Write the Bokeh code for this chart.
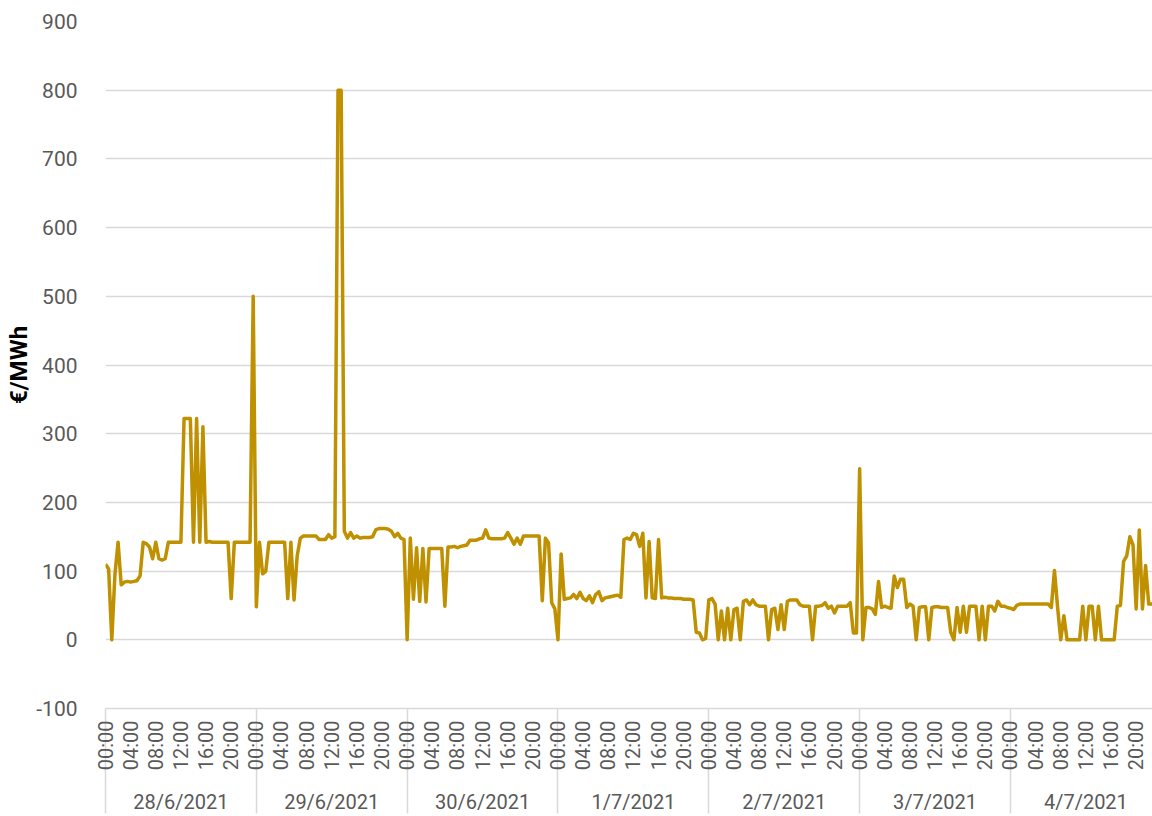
import numpy as np
from bokeh.plotting import figure
from bokeh.models import FixedTicker, LinearAxis, Range1d
from bokeh.embed import file_html
from bokeh.resources import INLINE

# ---- data (half-hourly prices, €/MWh) ----
day_labels = ["28/6/2021", "29/6/2021", "30/6/2021", "1/7/2021", "2/7/2021", "3/7/2021", "4/7/2021"]
y_ticks = [-100, 0, 100, 200, 300, 400, 500, 600, 700, 800, 900]
y_tick_labels = ["-100", "0", "100", "200", "300", "400", "500", "600", "700", "800", "900"]
hour_tick_labels = ["00:00", "04:00", "08:00", "12:00", "16:00", "20:00"]

d28 = [110, 103, 0, 95, 142, 80, 84, 85, 84, 85, 86, 93,
       142, 140, 135, 118, 142, 118, 116, 118, 142, 142, 142, 142,
       142, 322, 322, 322, 142, 322, 142, 310, 142, 143, 142, 142,
       142, 142, 142, 142, 60, 142, 142, 142, 142, 142, 142, 500]
d29 = [48, 142, 96, 100, 142, 142, 142, 142, 142, 142, 60, 142,
       58, 122, 148, 151, 151, 151, 151, 151, 146, 146, 146, 153,
       148, 150, 800, 800, 158, 148, 156, 148, 151, 148, 149, 149,
       149, 150, 160, 162, 162, 162, 161, 158, 150, 155, 148, 146]
d30 = [0, 148, 59, 134, 56, 133, 55, 133, 133, 133, 133, 133,
       49, 135, 135, 136, 134, 136, 137, 138, 145, 145, 145, 147,
       148, 160, 148, 147, 147, 147, 147, 148, 156, 148, 139, 148,
       139, 151, 151, 151, 151, 151, 151, 57, 148, 141, 54, 45]
d01 = [0, 125, 59, 60, 61, 66, 60, 69, 60, 57, 64, 54,
       66, 70, 57, 61, 62, 63, 64, 65, 62, 146, 148, 146,
       155, 153, 136, 155, 61, 143, 61, 60, 146, 61, 62, 61,
       61, 60, 60, 60, 59, 59, 59, 58, 11, 10, 0, 2]
d02 = [58, 60, 52, 0, 42, 0, 46, 0, 44, 46, 0, 56,
       58, 51, 58, 51, 49, 49, 49, 0, 44, 46, 15, 51,
       15, 56, 58, 58, 58, 51, 49, 49, 49, 0, 49, 49,
       50, 54, 46, 49, 39, 49, 49, 49, 49, 54, 10, 10]
d03 = [249, 0, 47, 47, 45, 37, 85, 47, 49, 47, 46, 93,
       76, 88, 88, 47, 52, 49, 0, 47, 48, 48, 0, 47,
       48, 48, 47, 47, 47, 11, 0, 47, 11, 49, 11, 49,
       49, 49, 0, 49, 0, 49, 49, 42, 56, 49, 49, 47]
d04 = [46, 44, 50, 52, 52, 52, 52, 52, 52, 52, 52, 52,
       52, 47, 101, 47, 0, 35, 0, 0, 0, 0, 0, 49,
       0, 49, 49, 0, 49, 0, 0, 0, 0, 0, 49, 50,
       114, 122, 150, 138, 45, 160, 45, 108, 52, 52, 50, 50]

prices = d28 + d29 + d30 + d01 + d02 + d03 + d04
hours = [i * 0.5 for i in range(len(prices))]

TEXT = "#595959"
GRID = "#d9d9d9"
FONT = "Roboto"

p = figure(width=1152, height=816, output_backend="svg", toolbar_location=None,
           x_range=Range1d(0, 166.6), y_range=Range1d(-100, 900),
           min_border_left=105, min_border_right=0, min_border_top=21, min_border_bottom=105)
p.outline_line_color = None
p.background_fill_color = "white"
p.border_fill_color = "white"

p.line(hours, prices, line_color="#BF9000", line_width=3.5, line_join="round")

# grid
p.xgrid.visible = False
p.ygrid.ticker = FixedTicker(ticks=y_ticks)
p.ygrid.grid_line_color = GRID
p.ygrid.grid_line_width = 1.5

# y axis
ya = p.yaxis[0]
ya.ticker = FixedTicker(ticks=y_ticks)
ya.major_label_overrides = {t: l for t, l in zip(y_ticks, y_tick_labels)}
ya.axis_line_color = None
ya.major_tick_line_color = None
ya.minor_tick_line_color = None
ya.major_label_text_font = FONT
ya.major_label_text_font_size = "21px"
ya.major_label_text_color = TEXT
ya.major_label_standoff = 22
ya.axis_label = "€/MWh"
ya.axis_label_text_font = FONT
ya.axis_label_text_font_style = "bold"
ya.axis_label_text_font_size = "24px"
ya.axis_label_text_color = "black"
ya.axis_label_standoff = 0

# x axis: hours (minor ticks = day separators running down to the bottom)
hour_ticks = list(range(0, 168, 4))
overrides = {t: hour_tick_labels[(t % 24) // 4] for t in hour_ticks}
xa = p.xaxis[0]
xa.ticker = FixedTicker(ticks=hour_ticks, minor_ticks=list(range(0, 169, 24)))
xa.major_label_overrides = overrides
xa.major_label_orientation = np.pi / 2
xa.major_label_text_font = FONT
xa.major_label_text_font_size = "20px"
xa.major_label_text_color = TEXT
xa.major_tick_line_color = None
xa.major_tick_out = 0
xa.minor_tick_in = 0
xa.minor_tick_out = 105
xa.major_label_standoff = 12 - 105
xa.minor_tick_line_color = GRID
xa.minor_tick_line_width = 1.5
xa.axis_line_color = GRID
xa.axis_line_width = 1.5

# x axis: days
day_centers = [12 + 24 * i for i in range(len(day_labels))]
da = LinearAxis(ticker=FixedTicker(ticks=day_centers),
                major_label_overrides={c: l for c, l in zip(day_centers, day_labels)})
da.axis_line_color = None
da.major_tick_line_color = None
da.minor_tick_line_color = None
da.major_tick_out = 0
da.major_label_text_font = FONT
da.major_label_text_font_size = "20px"
da.major_label_text_color = TEXT
da.major_label_standoff = 16
p.add_layout(da, "below")

open("out.html", "w").write(file_html(p, INLINE))
